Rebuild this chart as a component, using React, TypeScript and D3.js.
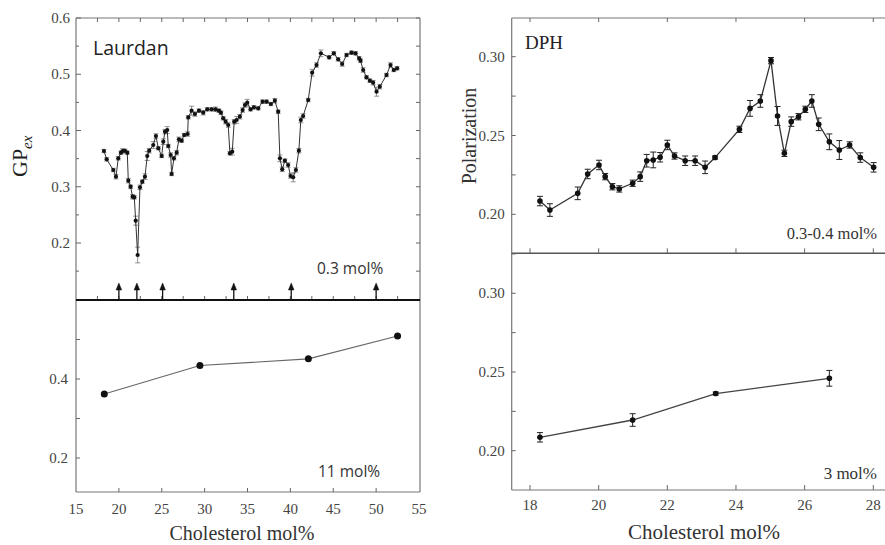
import React from 'react';
import * as d3 from 'd3';

// ---------- Data ----------
const laurdanX = [18.26, 18.58, 19.35, 19.66, 19.93, 20.24, 20.44, 20.7, 20.98, 21.1, 21.37, 21.6, 21.8, 21.96, 22.19, 22.46, 22.73, 23.04, 23.31, 23.54, 24.01, 24.32, 24.6, 24.99, 25.18, 25.38, 25.64, 25.76, 26.04, 26.15, 26.42, 26.74, 27.0, 27.32, 27.62, 28.02, 28.09, 28.48, 28.87, 29.34, 29.84, 30.31, 30.82, 31.28, 31.67, 31.9, 32.17, 32.45, 32.75, 32.95, 33.22, 33.45, 33.73, 34.11, 34.43, 34.7, 34.97, 35.36, 35.75, 36.25, 36.76, 37.23, 37.73, 38.19, 38.58, 38.78, 39.05, 39.36, 39.74, 40.02, 40.33, 40.64, 40.99, 41.22, 41.49, 42.08, 42.54, 43.05, 43.56, 44.52, 45.07, 45.57, 46.04, 46.55, 47.13, 47.6, 48.02, 48.18, 48.49, 48.88, 49.27, 49.65, 50.05, 50.43, 51.21, 51.68, 52.06, 52.45];
const laurdanY = [0.3636, 0.3488, 0.3298, 0.3179, 0.3506, 0.3606, 0.3636, 0.364, 0.3606, 0.3108, 0.3001, 0.2823, 0.2812, 0.2397, 0.1787, 0.299, 0.309, 0.3179, 0.3547, 0.3641, 0.3742, 0.3902, 0.3684, 0.3547, 0.3801, 0.3979, 0.4009, 0.3724, 0.3564, 0.3227, 0.3506, 0.3606, 0.3843, 0.3819, 0.392, 0.3938, 0.4235, 0.4352, 0.4293, 0.4352, 0.4317, 0.4377, 0.4377, 0.4377, 0.4352, 0.4317, 0.4217, 0.4157, 0.4098, 0.3594, 0.3624, 0.4157, 0.4187, 0.4245, 0.4364, 0.4453, 0.4494, 0.4377, 0.4412, 0.4395, 0.4512, 0.4512, 0.4471, 0.453, 0.4334, 0.3506, 0.331, 0.3463, 0.3387, 0.3191, 0.3168, 0.3298, 0.3641, 0.4187, 0.4258, 0.4542, 0.5028, 0.5164, 0.5372, 0.5301, 0.5372, 0.5266, 0.5182, 0.5342, 0.5383, 0.5372, 0.5283, 0.5241, 0.5076, 0.4946, 0.4886, 0.485, 0.469, 0.4779, 0.4987, 0.5164, 0.5076, 0.5106];
const laurdanErr = [0.003, 0.003, 0.003, 0.004, 0.003, 0.003, 0.004, 0.003, 0.003, 0.004, 0.003, 0.004, 0.003, 0.008, 0.014, 0.004, 0.003, 0.005, 0.008, 0.004, 0.006, 0.004, 0.003, 0.003, 0.005, 0.004, 0.006, 0.003, 0.004, 0.003, 0.003, 0.004, 0.004, 0.003, 0.003, 0.004, 0.003, 0.008, 0.004, 0.003, 0.004, 0.003, 0.003, 0.004, 0.003, 0.003, 0.003, 0.004, 0.004, 0.003, 0.006, 0.004, 0.006, 0.004, 0.004, 0.004, 0.006, 0.003, 0.003, 0.003, 0.003, 0.003, 0.003, 0.004, 0.003, 0.006, 0.004, 0.003, 0.004, 0.004, 0.008, 0.004, 0.004, 0.005, 0.004, 0.003, 0.006, 0.004, 0.006, 0.003, 0.003, 0.003, 0.004, 0.003, 0.003, 0.003, 0.003, 0.003, 0.004, 0.003, 0.003, 0.004, 0.008, 0.004, 0.003, 0.004, 0.003, 0.003];
const arrowX = [20, 22.1, 25.1, 33.4, 40.1, 50];

const laurdan11X = [18.3, 29.45, 42.1, 52.5];
const laurdan11Y = [0.362, 0.434, 0.451, 0.509];

const dphX = [18.29, 18.58, 19.39, 19.68, 20.01, 20.19, 20.4, 20.6, 20.99, 21.21, 21.4, 21.59, 21.79, 22.0, 22.21, 22.52, 22.81, 23.1, 23.39, 24.1, 24.41, 24.71, 25.02, 25.21, 25.41, 25.61, 25.82, 26.02, 26.21, 26.41, 26.72, 27.01, 27.31, 27.62, 28.01];
const dphY = [0.2084, 0.2027, 0.2133, 0.2256, 0.2313, 0.2239, 0.2175, 0.2161, 0.2197, 0.2239, 0.234, 0.2345, 0.2362, 0.244, 0.237, 0.234, 0.234, 0.2298, 0.236, 0.2539, 0.2672, 0.2719, 0.2975, 0.2624, 0.2387, 0.2588, 0.2619, 0.2666, 0.2719, 0.2571, 0.246, 0.2408, 0.244, 0.236, 0.2298];
const dphErr = [0.003, 0.004, 0.004, 0.003, 0.003, 0.002, 0.002, 0.002, 0.002, 0.003, 0.004, 0.005, 0.003, 0.003, 0.002, 0.003, 0.003, 0.004, 0.001, 0.002, 0.005, 0.004, 0.002, 0.006, 0.002, 0.003, 0.002, 0.002, 0.004, 0.004, 0.005, 0.006, 0.002, 0.003, 0.003];

const dph3X = [18.29, 20.99, 23.41, 26.72];
const dph3Y = [0.2085, 0.2195, 0.2363, 0.246];
const dph3Err = [0.003, 0.004, 0.001, 0.005];

const leftXTicks = [15, 20, 25, 30, 35, 40, 45, 50, 55];
const leftTopYTicks = [0.2, 0.3, 0.4, 0.5, 0.6];
const leftBotYTicks = [0.2, 0.4];
const rightXTicks = [18, 20, 22, 24, 26, 28];
const rightYTicks = [0.2, 0.25, 0.3];

const SERIF = '"Liberation Serif", "DejaVu Serif", serif';
const SANS = '"Open Sans", "Noto Sans", sans-serif';

export default function App() {
  const xL = d3.scaleLinear().domain([15, 55]).range([76, 419]);
  const yLT = d3.scaleLinear().domain([0.1, 0.6]).range([299.25, 18]);
  const yLB = d3.scaleLinear().domain([0.2, 0.4]).range([458, 379]);
  const xR = d3.scaleLinear().domain([18, 28]).range([530, 873.3]);
  const yRT = d3.scaleLinear().domain([0.2, 0.3]).range([214.3, 56.7]);
  const yRB = d3.scaleLinear().domain([0.2, 0.3]).range([450.7, 293.3]);

  const L = { x0: 76, x1: 420, top: 18, mid: 300, bot: 492 };
  const R = { x0: 511.7, x1: 892, top: 18, mid: 253.3, bot: 490 };

  const frameColor = '#777';
  const tickColor = '#666';
  const labelColor = '#444';

  const lineLT = d3.line<number>().x((_, i) => xL(laurdanX[i])).y((d) => yLT(d));
  const lineLB = d3.line<number>().x((_, i) => xL(laurdan11X[i])).y((d) => yLB(d));
  const lineRT = d3.line<number>().x((_, i) => xR(dphX[i])).y((d) => yRT(d));
  const lineRB = d3.line<number>().x((_, i) => xR(dph3X[i])).y((d) => yRB(d));

  const leftMinorX = d3.range(15, 55.01, 2.5);
  const leftTopYMinor = d3.range(0.15, 0.601, 0.05);
  const leftBotYMinor = [0.2, 0.3, 0.4, 0.5];
  const rightYMinor = d3.range(0.175, 0.326, 0.025);

  const errBar = (x: number, y1: number, y2: number, cap: number, key: string, color: string, sw: number) => (
    <g key={key} stroke={color} strokeWidth={sw}>
      <line x1={x} x2={x} y1={y1} y2={y2} />
      <line x1={x - cap} x2={x + cap} y1={y1} y2={y1} />
      <line x1={x - cap} x2={x + cap} y1={y2} y2={y2} />
    </g>
  );

  return (
    <svg width={885} height={545} style={{ position: 'absolute', left: 0, top: 0, background: '#fff' }} fontFamily={SERIF}>
      <rect x={0} y={0} width={885} height={545} fill="#fff" />

      {/* ===== LEFT PANEL ===== */}
      <g stroke={frameColor} strokeWidth={1.2} fill="none">
        <line x1={L.x0} x2={L.x0} y1={L.top} y2={L.bot} />
        <line x1={L.x1} x2={L.x1} y1={L.top} y2={L.bot} />
        <line x1={L.x0} x2={L.x1} y1={L.top} y2={L.top} />
        <line x1={L.x0} x2={L.x1} y1={L.bot} y2={L.bot} />
      </g>
      <g stroke={tickColor} strokeWidth={1}>
        {leftMinorX.filter((v) => v > 15 && v < 55).map((v) => (
          <line key={'lt' + v} x1={xL(v)} x2={xL(v)} y1={L.top} y2={L.top + 4} />
        ))}
        {leftMinorX.filter((v) => v > 15 && v < 55).map((v) => (
          <line key={'lm' + v} x1={xL(v)} x2={xL(v)} y1={L.mid} y2={L.mid - 4} />
        ))}
        {leftXTicks.filter((v) => v > 15 && v < 55).map((v) => (
          <line key={'lb' + v} x1={xL(v)} x2={xL(v)} y1={L.bot} y2={L.bot - 4} />
        ))}
        {leftTopYMinor.map((v, i) => (
          <g key={'ly' + i}>
            <line x1={L.x0} x2={L.x0 + (i % 2 === 1 ? 5 : 3)} y1={yLT(v)} y2={yLT(v)} />
            <line x1={L.x1} x2={L.x1 - 4} y1={yLT(v)} y2={yLT(v)} />
          </g>
        ))}
        {leftBotYMinor.map((v) => (
          <line key={'lby' + v} x1={L.x0} x2={L.x0 + 4} y1={yLB(v)} y2={yLB(v)} />
        ))}
      </g>
      <line x1={L.x0} x2={L.x1} y1={L.mid} y2={L.mid} stroke="#111" strokeWidth={2.2} />
      {arrowX.map((v) => (
        <g key={'ar' + v} fill="#111" stroke="#111">
          <line x1={xL(v)} x2={xL(v)} y1={L.mid} y2={L.mid - 12} strokeWidth={1.3} />
          <path d={`M${xL(v)},${L.mid - 17} L${xL(v) - 2.8},${L.mid - 10} L${xL(v) + 2.8},${L.mid - 10} Z`} strokeWidth={0.5} />
        </g>
      ))}
      <g fill={labelColor} fontSize={15} textAnchor="end">
        {leftTopYTicks.map((v) => (
          <text key={'lyt' + v} x={L.x0 - 6} y={yLT(v) + 5}>{v.toFixed(1)}</text>
        ))}
        {leftBotYTicks.map((v) => (
          <text key={'lybt' + v} x={L.x0 - 8} y={yLB(v) + 5}>{v.toFixed(1)}</text>
        ))}
      </g>
      <g fill={labelColor} fontSize={15} textAnchor="middle">
        {leftXTicks.map((v) => (
          <text key={'lxt' + v} x={xL(v)} y={514}>{v}</text>
        ))}
      </g>
      <text x={242} y={540} fontSize={20} textAnchor="middle" fill="#333">Cholesterol mol%</text>
      <text transform="translate(27,177) rotate(-90)" fontSize={22} fill="#222">
        GP<tspan fontSize={15} fontStyle="italic" dy={5}>ex</tspan>
      </text>
      <text x={93} y={55} fontFamily={SANS} fontSize={19.5} fill="#222">Laurdan</text>
      <text x={317} y={274} fontFamily={SANS} fontSize={15.5} fill="#333">0.3 mol%</text>
      <text x={318} y={477} fontFamily={SANS} fontSize={15.5} fill="#333">11 mol%</text>

      <g>
        {laurdanX.map((x, i) =>
          errBar(xL(x), yLT(laurdanY[i] + laurdanErr[i]), yLT(laurdanY[i] - laurdanErr[i]), 2.5, 'le' + i, '#777', 0.8)
        )}
        <path d={lineLT(laurdanY) || ''} fill="none" stroke="#333" strokeWidth={1} />
        {laurdanX.map((x, i) => (
          <circle key={'lp' + i} cx={xL(x)} cy={yLT(laurdanY[i])} r={2.1} fill="#111" />
        ))}
      </g>
      <g>
        <path d={lineLB(laurdan11Y) || ''} fill="none" stroke="#666" strokeWidth={1.1} />
        {laurdan11X.map((x, i) => (
          <circle key={'lbp' + i} cx={xL(x)} cy={yLB(laurdan11Y[i])} r={3.5} fill="#111" />
        ))}
      </g>

      {/* ===== RIGHT PANEL ===== */}
      <g stroke={frameColor} strokeWidth={1.2} fill="none">
        <line x1={R.x0} x2={R.x0} y1={R.top} y2={R.bot} />
        <line x1={R.x0} x2={R.x1} y1={R.top} y2={R.top} />
        <line x1={R.x0} x2={R.x1} y1={R.mid} y2={R.mid} strokeWidth={1.6} stroke="#555" />
        <line x1={R.x0} x2={R.x1} y1={R.bot} y2={R.bot} />
      </g>
      <g stroke={tickColor} strokeWidth={1}>
        {rightXTicks.map((v) => (
          <g key={'rxt' + v}>
            <line x1={xR(v)} x2={xR(v)} y1={R.top} y2={R.top + 4} />
            <line x1={xR(v)} x2={xR(v)} y1={R.mid} y2={R.mid - 5} />
            <line x1={xR(v)} x2={xR(v)} y1={R.bot} y2={R.bot - 5} />
          </g>
        ))}
        {rightYMinor.filter((v) => yRT(v) > R.top && yRT(v) < R.mid).map((v) => (
          <line key={'ryt' + v} x1={R.x0} x2={R.x0 + 4} y1={yRT(v)} y2={yRT(v)} />
        ))}
        {rightYMinor.filter((v) => yRB(v) > R.mid && yRB(v) < R.bot).map((v) => (
          <line key={'ryb' + v} x1={R.x0} x2={R.x0 + 4} y1={yRB(v)} y2={yRB(v)} />
        ))}
      </g>
      <g fill={labelColor} fontSize={15} textAnchor="end">
        {rightYTicks.map((v) => (
          <text key={'rytl' + v} x={R.x0 - 7} y={yRT(v) + 5}>{v.toFixed(2)}</text>
        ))}
        {rightYTicks.map((v) => (
          <text key={'rybl' + v} x={R.x0 - 7} y={yRB(v) + 5}>{v.toFixed(2)}</text>
        ))}
      </g>
      <g fill={labelColor} fontSize={15} textAnchor="middle">
        {rightXTicks.map((v) => (
          <text key={'rxl' + v} x={xR(v)} y={510}>{v}</text>
        ))}
      </g>
      <text x={704} y={539} fontSize={21} textAnchor="middle" fill="#333">Cholesterol mol%</text>
      <text transform="translate(476,136) rotate(-90)" fontSize={20} textAnchor="middle" fill="#333">Polarization</text>
      <text x={525} y={49} fontSize={19} fill="#222">DPH</text>
      <text x={877} y={239} fontSize={16.5} textAnchor="end" fill="#333">0.3-0.4 mol%</text>
      <text x={877} y={479} fontSize={17} textAnchor="end" fill="#333">3 mol%</text>

      <g>
        {dphX.map((x, i) =>
          errBar(xR(x), yRT(dphY[i] + dphErr[i]), yRT(dphY[i] - dphErr[i]), 3, 're' + i, '#222', 1)
        )}
        <path d={lineRT(dphY) || ''} fill="none" stroke="#333" strokeWidth={1.3} />
        {dphX.map((x, i) => (
          <circle key={'rp' + i} cx={xR(x)} cy={yRT(dphY[i])} r={2.8} fill="#111" />
        ))}
      </g>
      <g>
        {dph3X.map((x, i) =>
          errBar(xR(x), yRB(dph3Y[i] + dph3Err[i]), yRB(dph3Y[i] - dph3Err[i]), 3, 'rbe' + i, '#222', 1)
        )}
        <path d={lineRB(dph3Y) || ''} fill="none" stroke="#444" strokeWidth={1.3} />
        {dph3X.map((x, i) => (
          <circle key={'rbp' + i} cx={xR(x)} cy={yRB(dph3Y[i])} r={2.8} fill="#111" />
        ))}
      </g>
    </svg>
  );
}
